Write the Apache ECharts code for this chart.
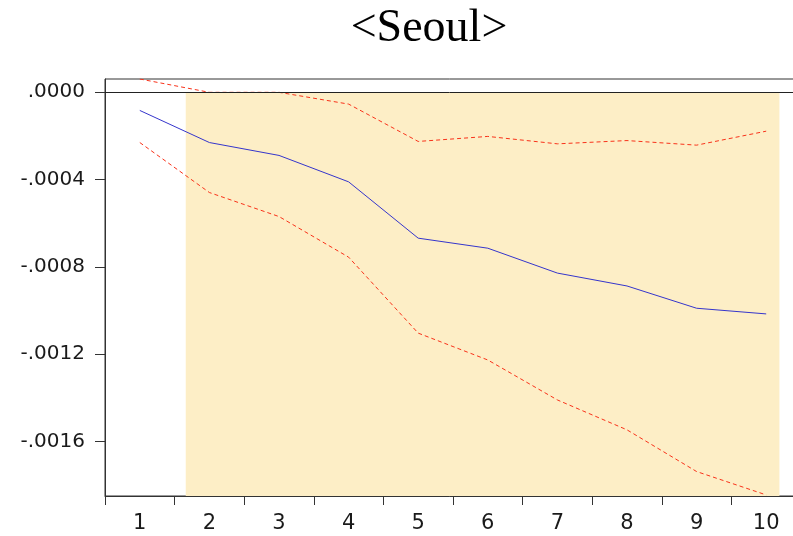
<!DOCTYPE html>
<html>
<head>
<meta charset="utf-8">
<script src="https://cdn.jsdelivr.net/npm/echarts@6/dist/echarts.min.js"></script>
<style>
html,body{margin:0;padding:0;background:#fff;}
#chart{width:793px;height:536px;}
</style>
</head>
<body>
<div id="chart"></div>
<script>
const titleText = '<Seoul>';
const periods = ['1','2','3','4','5','6','7','8','9','10'];
const response = [-0.000084, -0.000231, -0.000290, -0.000411, -0.000669, -0.000715, -0.000829, -0.000888, -0.000990, -0.001016];
const upperBand = [0.000060, -0.000001, -0.000001, -0.000055, -0.000226, -0.000203, -0.000237, -0.000222, -0.000243, -0.000179];
const lowerBand = [-0.000231, -0.000460, -0.000570, -0.000756, -0.001104, -0.001227, -0.001410, -0.001547, -0.001738, -0.001845];
const yTickValues = [0, -0.0004, -0.0008, -0.0012, -0.0016];
const yTickLabels = ['.0000', '-.0004', '-.0008', '-.0012', '-.0016'];
const shadeRange = [1.66, 10.19];

const toPairs = arr => arr.map((v, i) => [i + 1, v]);

const yMin = -0.00185, yMax = 0.00006;
const gridTop = 79, gridHeight = 417;
const pxPerUnit = gridHeight / (yMax - yMin);
const tickTop = gridTop + (yMax - 0) * pxPerUnit;
const tickHeight = (0 - yTickValues[yTickValues.length - 1]) * pxPerUnit;
const nTicks = yTickValues.length - 1;

const chart = echarts.init(document.getElementById('chart'), null, {renderer: 'canvas'});
chart.setOption({
  animation: false,
  backgroundColor: '#ffffff',
  graphic: [{
    type: 'text', x: 429, y: 29, z: 10,
    style: {text: titleText, font: '46px "Liberation Serif"', fill: '#000', textAlign: 'center', textVerticalAlign: 'middle'}
  }],
  grid: [
    {left: 105, top: gridTop, width: 696, height: gridHeight, outerBoundsMode: 'none', containLabel: false,
     show: true, borderColor: '#333', borderWidth: 1, backgroundColor: 'transparent'},
    {left: 105, top: tickTop, width: 696, height: tickHeight, outerBoundsMode: 'none', containLabel: false, show: false}
  ],
  xAxis: [{
    type: 'category', data: periods, boundaryGap: true, position: 'bottom', gridIndex: 0,
    axisLine: {show: true, onZero: false, lineStyle: {color: '#333', width: 1}},
    axisTick: {show: true, inside: false, length: 9, lineStyle: {color: '#333'}},
    axisLabel: {fontFamily: 'DejaVu Sans', fontSize: 21, color: '#1a1a1a', margin: 17},
    splitLine: {show: false}
  }, {
    type: 'value', gridIndex: 0, min: 0.5, max: 10.5, show: false
  }, {
    type: 'value', gridIndex: 1, min: 0, max: 1, show: false
  }],
  yAxis: [{
    type: 'value', gridIndex: 0, position: 'left', min: yMin, max: yMax,
    axisLine: {show: true, onZero: false, lineStyle: {color: '#333', width: 1}},
    axisTick: {show: false}, axisLabel: {show: false}, splitLine: {show: false}
  }, {
    // tick axis counted in tick steps: -4 .. 0 maps to -.0016 .. .0000
    type: 'value', gridIndex: 1, position: 'left',
    min: -nTicks, max: 0, splitNumber: nTicks,
    axisLine: {show: false, onZero: false},
    axisTick: {show: true, inside: false, length: 10, lineStyle: {color: '#333', width: 1}},
    axisLabel: {
      fontFamily: 'DejaVu Sans', fontSize: 20, color: '#1a1a1a', margin: 20,
      formatter: v => {
        const i = Math.round(-v);
        return (Math.abs(v + i) < 1e-9 && yTickLabels[i] !== undefined) ? yTickLabels[i] : '';
      }
    },
    splitLine: {show: false}
  }],
  series: [{
    type: 'line', xAxisIndex: 1, yAxisIndex: 0, data: [], z: 1, silent: true,
    markArea: {
      silent: true,
      itemStyle: {color: '#fdeec6'},
      data: [[{xAxis: shadeRange[0], yAxis: 0}, {xAxis: shadeRange[1], yAxis: yMin}]]
    }
  }, {
    type: 'line', xAxisIndex: 1, yAxisIndex: 0, data: [], z: 2, silent: true,
    markLine: {
      silent: true, symbol: ['none', 'none'], label: {show: false},
      lineStyle: {color: '#222', width: 1, type: 'solid'},
      data: [{yAxis: 0}]
    }
  }, {
    type: 'line', xAxisIndex: 1, yAxisIndex: 0, data: toPairs(response), z: 3, symbol: 'none',
    lineStyle: {color: '#3535cc', width: 1}
  }, {
    type: 'line', xAxisIndex: 1, yAxisIndex: 0, data: toPairs(upperBand), z: 3, symbol: 'none',
    lineStyle: {color: '#f8321a', width: 1, type: [4, 3]}
  }, {
    type: 'line', xAxisIndex: 1, yAxisIndex: 0, data: toPairs(lowerBand), z: 3, symbol: 'none',
    lineStyle: {color: '#f8321a', width: 1, type: [4, 3]}
  }]
});
</script>
</body>
</html>
